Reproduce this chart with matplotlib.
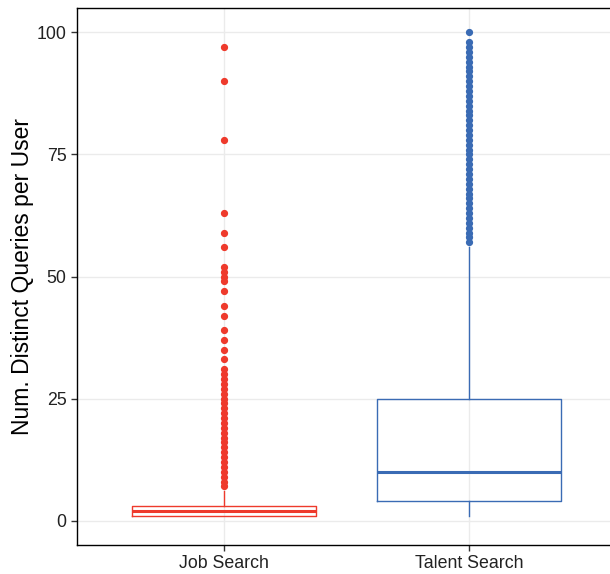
import matplotlib
matplotlib.use("Agg")
import matplotlib.pyplot as plt
import numpy as np

plt.rcParams['font.family'] = ['Liberation Sans', 'DejaVu Sans']

categories = ["Job Search", "Talent Search"]
colors = ["#EE3A2C", "#3A6BB4"]

# box stats
q1 = [1, 4]
med = [2, 10]
q3 = [3, 25]
whislo = [1, 1]
whishi = [6, 56]

job_fliers = list(range(7, 32)) + [33, 35, 37, 39, 42, 44, 47, 49, 50, 51, 52, 56, 59, 63, 78, 90, 97]
talent_fliers = list(range(57, 99)) + [100]
fliers = [job_fliers, talent_fliers]

fig = plt.figure(figsize=(6.10, 5.74), dpi=100)
ax = fig.add_axes([77 / 610, 1 - 545 / 574, 533 / 610, 537 / 574])

for i, cat in enumerate(categories):
    stats = [dict(label=cat, med=med[i], q1=q1[i], q3=q3[i],
                  whislo=whislo[i], whishi=whishi[i], fliers=fliers[i])]
    c = colors[i]
    ax.bxp(stats, positions=[i + 1], widths=0.75, showcaps=False,
           boxprops=dict(color=c, linewidth=1.0),
           whiskerprops=dict(color=c, linewidth=1.0),
           medianprops=dict(color=c, linewidth=2.2),
           flierprops=dict(marker='o', markerfacecolor=c, markeredgecolor=c,
                           markersize=4.2, linestyle='none'),
           zorder=3)

ax.set_xlim(0.4, 0.4 + 533 / 245)
ax.set_ylim(-5, 105)
ax.set_xticks([1, 2])
ax.set_xticklabels(categories)
ax.set_yticks([0, 25, 50, 75, 100])
ax.grid(True, color="#EBEBEB", linewidth=1.0, zorder=0)
ax.set_axisbelow(True)

for s in ['left', 'bottom', 'top']:
    ax.spines[s].set_color('black')
    ax.spines[s].set_linewidth(1.0)
ax.spines['right'].set_visible(False)

ax.tick_params(axis='both', colors='#333333', length=4, width=1.0,
               labelsize=12.8, labelcolor='#222222')
ax.set_ylabel("Num. Distinct Queries per User", fontsize=16.5, labelpad=2)

fig.savefig("out.png", dpi=100)
